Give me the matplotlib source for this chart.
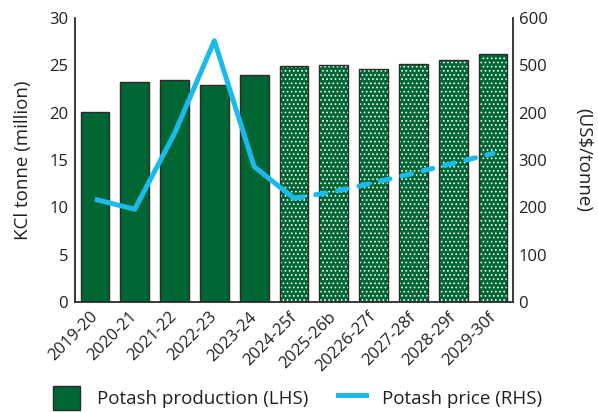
import matplotlib
matplotlib.use("Agg")
import matplotlib.pyplot as plt
from matplotlib.patches import Patch
from matplotlib.lines import Line2D

plt.rcParams['font.family'] = ['Open Sans', 'DejaVu Sans']
plt.rcParams['hatch.linewidth'] = 0.7

categories = ["2019-20", "2020-21", "2021-22", "2022-23", "2023-24", "2024-25f",
              "2025-26b", "20226-27f", "2027-28f", "2028-29f", "2029-30f"]
production = [20.1, 23.2, 23.5, 22.9, 24.0, 24.95, 25.0, 24.6, 25.1, 25.55, 26.15]
forecast = [False, False, False, False, False, True, True, True, True, True, True]
price = [217, 196, 356, 552, 286, 219, 233, 252, 272, 293, 314]
left_ticks = [0, 5, 10, 15, 20, 25, 30]
right_ticks = [0, 100, 200, 300, 400, 500, 600]
right_tick_labels = ["0", "100", "200", "300", "200", "500", "600"]

green = "#006633"
blue = "#1ABBEB"
edge = "#2b2b2b"
txt = "#231f20"

fig = plt.figure(figsize=(5.98, 4.12), dpi=100)
ax = fig.add_axes([75/598, (412-302)/412, (513-75)/598, (302-18)/412])
x = list(range(len(categories)))

for i, (v, f) in enumerate(zip(production, forecast)):
    if f:
        ax.bar(i, v, width=0.72, color=green, edgecolor="white", linewidth=0, hatch="....", zorder=2)
    else:
        ax.bar(i, v, width=0.72, color=green, linewidth=0, zorder=2)
    ax.bar(i, v, width=0.72, fill=False, edgecolor=edge, linewidth=1.0, zorder=3)

ax.set_xlim(-0.5, len(categories) - 0.5)
ax.set_ylim(0, 30)
ax.set_yticks(left_ticks)
ax.set_xticks(x)
ax.set_xticklabels(categories, rotation=45, ha="right", va="center", rotation_mode="anchor")
ax.tick_params(axis="both", length=0, labelsize=12, colors=txt)
ax.tick_params(axis="x", pad=9)
ax.tick_params(axis="y", pad=5)
for s in ["top", "right"]:
    ax.spines[s].set_visible(False)
for s in ["left", "bottom"]:
    ax.spines[s].set_color(edge)
    ax.spines[s].set_linewidth(1.3)
ax.set_ylabel("KCl tonne (million)", fontsize=13.5, color=txt, labelpad=12)

ax2 = ax.twinx()
ax2.set_ylim(0, 600)
ax2.set_yticks(right_ticks)
ax2.set_yticklabels(right_tick_labels)
ax2.tick_params(axis="y", length=0, labelsize=12, colors=txt, pad=4)
for s in ["top", "left", "bottom"]:
    ax2.spines[s].set_visible(False)
ax2.spines["right"].set_color(edge)
ax2.spines["right"].set_linewidth(1.3)
ax2.set_ylabel("(US$/tonne)", fontsize=13.5, color=txt, rotation=270, labelpad=32)

lw = 3.6
ax2.plot(x[:6], price[:6], color=blue, linewidth=lw, solid_capstyle="butt", zorder=4)
ax2.plot(x[5:], price[5:], color=blue, linewidth=lw, linestyle=(0, (2.0, 2.4)),
         dash_capstyle="round", zorder=4)

handles = [Patch(facecolor=green, edgecolor=edge, linewidth=1.0),
           Line2D([0], [0], color=blue, linewidth=lw)]
labels = ["Potash production (LHS)", "Potash price (RHS)"]
fig.legend(handles, labels, loc="upper left", bbox_to_anchor=(53/598, (412-386)/412), ncol=2,
           frameon=False, fontsize=13.5, handlelength=1.45, handleheight=1.6,
           columnspacing=1.6, handletextpad=0.9, labelcolor=txt,
           borderpad=0, borderaxespad=0)

fig.savefig("out.png", dpi=100)
